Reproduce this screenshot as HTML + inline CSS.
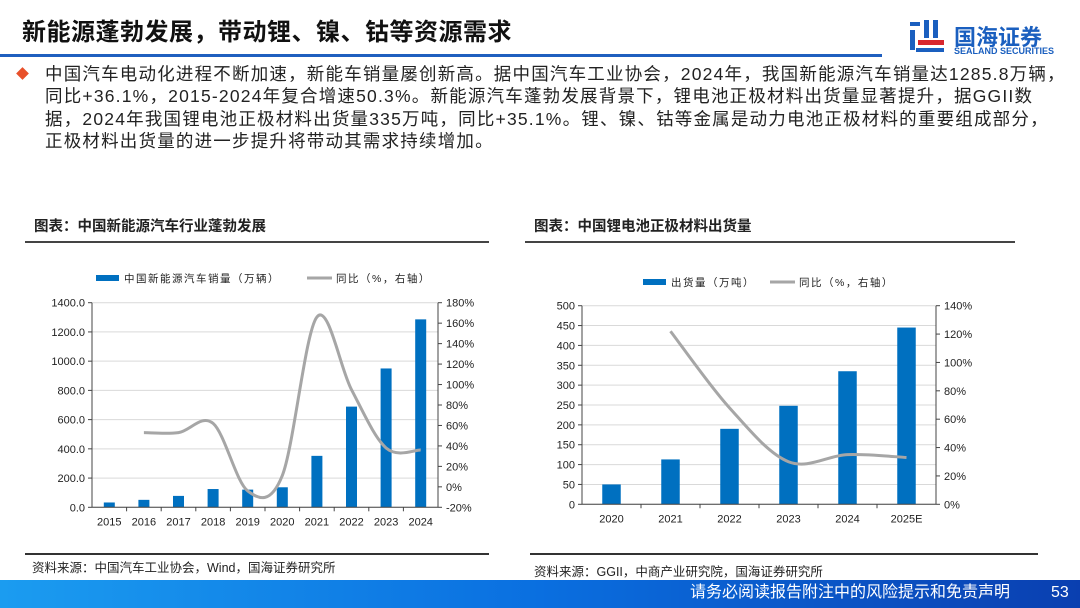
<!DOCTYPE html>
<html><head><meta charset="utf-8">
<style>
body{margin:0;width:1080px;height:608px;overflow:hidden;background:#fff;font-family:"Liberation Sans","Noto Sans CJK SC",sans-serif;position:relative}
.abs{position:absolute}
</style></head><body>
<div class="abs" style="left:22px;top:12px;font-size:24px;font-weight:bold;color:#111;letter-spacing:0.5px">新能源蓬勃发展，带动锂、镍、钴等资源需求</div>
<div class="abs" style="left:0;top:54px;width:882px;height:3px;background:#1f5fbf"></div>
<div class="abs" style="left:908px;top:18px;width:160px;height:44px">
<svg width="40" height="40" viewBox="0 0 40 40" style="position:absolute;left:0;top:0">
<rect x="2" y="4" width="10" height="4" fill="#1a5fbf"/><rect x="2" y="12" width="5" height="20" fill="#1a5fbf"/>
<rect x="16" y="2" width="5" height="18" fill="#1a5fbf"/><rect x="25" y="2" width="5" height="18" fill="#1a5fbf"/>
<rect x="10" y="22" width="26" height="5" fill="#d7262e"/><rect x="8" y="30" width="28" height="4" fill="#1a5fbf"/></svg>
<div class="abs" style="left:46px;top:2px;font-size:22px;font-weight:bold;color:#1a5fbf;white-space:nowrap">国海证券</div>
<div class="abs" style="left:46px;top:28px;font-size:9px;font-weight:bold;color:#1a5fbf;white-space:nowrap">SEALAND SECURITIES</div>
</div>
<div class="abs" style="left:18px;top:69px;width:9px;height:9px;background:#e8502a;transform:rotate(45deg)"></div>
<div class="abs" style="left:45px;top:63px;white-space:nowrap;font-size:17.5px;letter-spacing:1.2px;line-height:22.3px;color:#222">中国汽车电动化进程不断加速，新能车销量屡创新高。据中国汽车工业协会，2024年，我国新能源汽车销量达1285.8万辆，<br>同比+36.1%，2015-2024年复合增速50.3%。新能源汽车蓬勃发展背景下，锂电池正极材料出货量显著提升，据GGII数<br>据，2024年我国锂电池正极材料出货量335万吨，同比+35.1%。锂、镍、钴等金属是动力电池正极材料的重要组成部分，<br>正极材料出货量的进一步提升将带动其需求持续增加。</div>

<div class="abs" style="left:34px;top:215px;font-size:14.5px;font-weight:bold;color:#222">图表：中国新能源汽车行业蓬勃发展</div>
<div class="abs" style="left:25px;top:241px;width:464px;height:1.5px;background:#444"></div>
<div class="abs" style="left:534px;top:215px;font-size:14.5px;font-weight:bold;color:#222">图表：中国锂电池正极材料出货量</div>
<div class="abs" style="left:525px;top:241px;width:490px;height:1.5px;background:#444"></div>

<div class="abs" style="left:25px;top:553px;width:464px;height:1.5px;background:#333"></div>
<div class="abs" style="left:32px;top:557px;font-size:12.5px;color:#222">资料来源：中国汽车工业协会，Wind，国海证券研究所</div>
<div class="abs" style="left:530px;top:553px;width:508px;height:1.5px;background:#333"></div>
<div class="abs" style="left:534px;top:561px;font-size:12.5px;color:#222">资料来源：GGII，中商产业研究院，国海证券研究所</div>

<div class="abs" style="left:0;top:580px;width:1080px;height:28px;background:linear-gradient(90deg,#1b9cf0 0%,#0a6fe0 50%,#0a3fb0 100%)"></div>
<div class="abs" style="left:690px;top:583px;font-size:16px;line-height:20px;color:#fff;white-space:nowrap">请务必阅读报告附注中的风险提示和免责声明</div>
<div class="abs" style="left:1051px;top:583px;font-size:16px;line-height:20px;color:#fff">53</div>

<svg class="abs" id="c1" style="left:0;top:260px" width="540" height="280"></svg>
<svg class="abs" id="c2" style="left:530px;top:260px" width="540" height="280"></svg>

<script>
const cat1=['2015','2016','2017','2018','2019','2020','2021','2022','2023','2024'];
const sales1=[33,51,78,125,121,137,352,689,950,1286];
const yoy1=[null,53,53,62,-4,11,166,95,38,36];
const leftTicks1=['0.0','200.0','400.0','600.0','800.0','1000.0','1200.0','1400.0'];
const rightTicks1=['-20%','0%','20%','40%','60%','80%','100%','120%','140%','160%','180%'];

const cat2=['2020','2021','2022','2023','2024','2025E'];
const ship2=[50,113,190,248,335,445];
const yoy2=[null,122,68,30,35,33];
const leftTicks2=['0','50','100','150','200','250','300','350','400','450','500'];
const rightTicks2=['0%','20%','40%','60%','80%','100%','120%','140%'];

const NS='http://www.w3.org/2000/svg';
function mk(svg,tag,attrs,txt){const e=document.createElementNS(NS,tag);for(const k in attrs)e.setAttribute(k,attrs[k]);if(txt!==undefined)e.textContent=txt;svg.appendChild(e);return e;}
function smooth(pts){let d='M'+pts[0][0]+','+pts[0][1];for(let i=0;i<pts.length-1;i++){const p0=pts[i-1]||pts[i],p1=pts[i],p2=pts[i+1],p3=pts[i+2]||p2;const c1=[p1[0]+(p2[0]-p0[0])/6,p1[1]+(p2[1]-p0[1])/6],c2=[p2[0]-(p3[0]-p1[0])/6,p2[1]-(p3[1]-p1[1])/6];d+=' C'+c1+' '+c2+' '+p2;}return d;}

function draw(svg,o){
 const {x0,x1,yT,yB,cats,bars,line,lMin,lMax,rMin,rMax,lt,rt,bw,legY,legBarX,legBarLabel,legLineX,legLineLabel,fs}=o;
 const yL=v=>yB-(v-lMin)/(lMax-lMin)*(yB-yT);
 const yR=v=>yB-(v-rMin)/(rMax-rMin)*(yB-yT);
 const step=(x1-x0)/cats.length;const xc=i=>x0+step*(i+0.5);
 lt.forEach((t,i)=>{const y=yT+(yB-yT)*(1-i/(lt.length-1));
  const g=mk(svg,'line',{x1:x0,x2:x1,y1:y,y2:y,stroke:'#d9d9d9','stroke-width':1});
  
  const l=mk(svg,'text',{x:x0-7,y:y+4,'text-anchor':'end','font-size':fs,fill:'#222'},t);
  
  mk(svg,'line',{x1:x0-4,x2:x0,y1:y,y2:y,stroke:'#444'});});
 rt.forEach((t,i)=>{const y=yT+(yB-yT)*(1-i/(rt.length-1));
  const l=mk(svg,'text',{x:x1+8,y:y+4,'font-size':fs,fill:'#222'},t);
  
  mk(svg,'line',{x1:x1,x2:x1+4,y1:y,y2:y,stroke:'#444'});});
 cats.forEach((c,i)=>{
  const b=mk(svg,'rect',{x:xc(i)-bw/2,y:yL(bars[i]),width:bw,height:yB-yL(bars[i]),fill:'#0070c0'});
  
  const l=mk(svg,'text',{x:xc(i),y:yB+18,'text-anchor':'middle','font-size':fs,fill:'#222'},c);
  
  if(i>0)mk(svg,'line',{x1:x0+step*i,x2:x0+step*i,y1:yB,y2:yB+4,stroke:'#444'});
 });
 const pts=[];line.forEach((v,i)=>{if(v!==null)pts.push([xc(i),yR(v)]);});
 const p=mk(svg,'path',{d:smooth(pts),fill:'none',stroke:'#a6a6a6','stroke-width':3});
 
 mk(svg,'line',{x1:x0,x2:x0,y1:yT,y2:yB,stroke:'#444'});
 mk(svg,'line',{x1:x1,x2:x1,y1:yT,y2:yB,stroke:'#444'});
 mk(svg,'line',{x1:x0,x2:x1,y1:yB,y2:yB,stroke:'#444'});
 const lb=mk(svg,'rect',{x:legBarX,y:legY-3,width:23,height:6,fill:'#0070c0'});
 
 const t1=mk(svg,'text',{x:legBarX+28,y:legY+4,'font-size':10.5,fill:'#222','letter-spacing':1.5},legBarLabel);
 
 const ll=mk(svg,'line',{x1:legLineX,x2:legLineX+25,y1:legY,y2:legY,stroke:'#a6a6a6','stroke-width':3});
 
 const t2=mk(svg,'text',{x:legLineX+29,y:legY+4,'font-size':10.5,fill:'#222','letter-spacing':1.5},legLineLabel);
 
}
draw(document.getElementById('c1'),{x0:92,x1:438,yT:42.7,yB:247.3,cats:cat1,bars:sales1,line:yoy1,lMin:0,lMax:1400,rMin:-20,rMax:180,lt:leftTicks1,rt:rightTicks1,bw:11,legY:18,legBarX:96,legBarLabel:'中国新能源汽车销量（万辆）',legLineX:307,legLineLabel:'同比（%，右轴）',fs:11});
draw(document.getElementById('c2'),{x0:52,x1:406,yT:45.7,yB:244.3,cats:cat2,bars:ship2,line:yoy2,lMin:0,lMax:500,rMin:0,rMax:140,lt:leftTicks2,rt:rightTicks2,bw:18.5,legY:22,legBarX:113,legBarLabel:'出货量（万吨）',legLineX:240,legLineLabel:'同比（%，右轴）',fs:11});
</script>
</body></html>
